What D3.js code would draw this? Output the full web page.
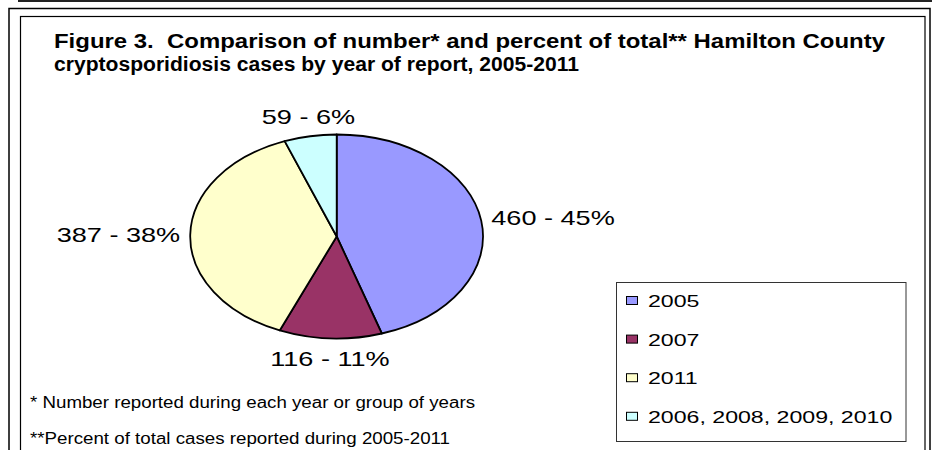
<!DOCTYPE html>
<html>
<head>
<meta charset="utf-8">
<script src="https://cdn.jsdelivr.net/npm/d3@7"></script>
<style>
  html, body { margin: 0; padding: 0; background: #fff; }
  svg { display: block; }
  text { font-family: "Liberation Sans", Arial, Helvetica, sans-serif; white-space: pre; }
</style>
</head>
<body>
<svg id="chart" width="932" height="450"></svg>
<script>
// ---- data ----
const categories = ["2005", "2007", "2011", "2006, 2008, 2009, 2010"];
const cases = [460, 116, 387, 59];
const percents = [45, 11, 38, 6];
const colors = ["#9999FF", "#993366", "#FFFFCC", "#CCFFFF"];
const titleLines = [
  "Figure 3.  Comparison of number* and percent of total** Hamilton County",
  "cryptosporidiosis cases by year of report, 2005-2011"
];
const footnotes = [
  "* Number reported during each year or group of years",
  "**Percent of total cases reported during 2005-2011"
];

// ---- layout ----
const svg = d3.select("#chart");
const W = 932, H = 450;

// frame lines
svg.append("line").attr("x1", 18).attr("x2", W).attr("y1", 1).attr("y2", 1)
  .attr("stroke", "#222").attr("stroke-width", 2);
svg.append("rect").attr("x", 9).attr("y", 8.5).attr("width", 921).attr("height", 460)
  .attr("fill", "none").attr("stroke", "#000").attr("stroke-width", 1.5);
svg.append("rect").attr("x", 20.5).attr("y", 16.5).attr("width", 904.5).attr("height", 460)
  .attr("fill", "none").attr("stroke", "#000").attr("stroke-width", 1.2);

// title
const titleWidths = [831, 525];
titleLines.forEach((t, i) => {
  svg.append("text")
    .attr("x", 54).attr("y", 48 + i * 22.5)
    .attr("font-size", 20).attr("font-weight", "bold").attr("fill", "#000")
    .attr("textLength", titleWidths[i]).attr("lengthAdjust", "spacingAndGlyphs")
    .text(t);
});

// pie (elliptical)
const cx = 336.7, cy = 236.5, rx = 146.5, ry = 102;
const pie = d3.pie().sort(null).value(d => d);
const arcs = pie(cases);
const arc = d3.arc().innerRadius(0).outerRadius(1);
const g = svg.append("g").attr("transform", `translate(${cx},${cy}) scale(${rx},${ry})`);
g.selectAll("path").data(arcs).join("path")
  .attr("d", arc)
  .attr("fill", (d, i) => colors[i])
  .attr("stroke", "#000")
  .attr("stroke-width", 1.8)
  .attr("stroke-linejoin", "round")
  .attr("vector-effect", "non-scaling-stroke");

// data labels
const labelSize = 21, labelStretch = 1.29, padX = 10, padY = 20;
const labels = svg.append("g").selectAll("text").data(arcs).join("text")
  .attr("font-size", labelSize).attr("fill", "#000")
  .text((d, i) => `${cases[i]} - ${percents[i]}%`)
  .each(function (d) {
    const a = (d.startAngle + d.endAngle) / 2;
    const s = Math.sin(a), c = Math.cos(a);
    const x = cx + (rx + padX) * s;
    const y = cy - (ry + padY) * c + labelSize * 0.716 / 2;
    const anchor = s > 0.5 ? "start" : (s < -0.5 ? "end" : "middle");
    const sel = d3.select(this).attr("x", x).attr("y", y).attr("text-anchor", anchor);
    const w = this.getComputedTextLength();
    sel.attr("textLength", w * labelStretch).attr("lengthAdjust", "spacingAndGlyphs");
  });

// legend
const lg = svg.append("g");
lg.append("rect").attr("x", 616.5).attr("y", 282.5).attr("width", 289.5).attr("height", 159)
  .attr("fill", "#fff").attr("stroke", "#333").attr("stroke-width", 1);
const legendSize = 17, legendStretch = 1.36, legendStep = 38.6, legendTop = 301;
categories.forEach((c, i) => {
  const yy = legendTop + i * legendStep;
  lg.append("rect").attr("x", 626.5).attr("y", yy - 4.5).attr("width", 11).attr("height", 8)
    .attr("fill", colors[i]).attr("stroke", "#000").attr("stroke-width", 1);
  const t = lg.append("text").attr("x", 648).attr("y", yy + 6)
    .attr("font-size", legendSize).attr("fill", "#000").text(c);
  const w = t.node().getComputedTextLength();
  t.attr("textLength", w * legendStretch).attr("lengthAdjust", "spacingAndGlyphs");
});

// footnotes
const footWidths = [445, 420];
footnotes.forEach((t, i) => {
  svg.append("text")
    .attr("x", 30).attr("y", 408 + i * 36)
    .attr("font-size", 16).attr("fill", "#000")
    .attr("textLength", footWidths[i]).attr("lengthAdjust", "spacingAndGlyphs")
    .text(t);
});
</script>
</body>
</html>
